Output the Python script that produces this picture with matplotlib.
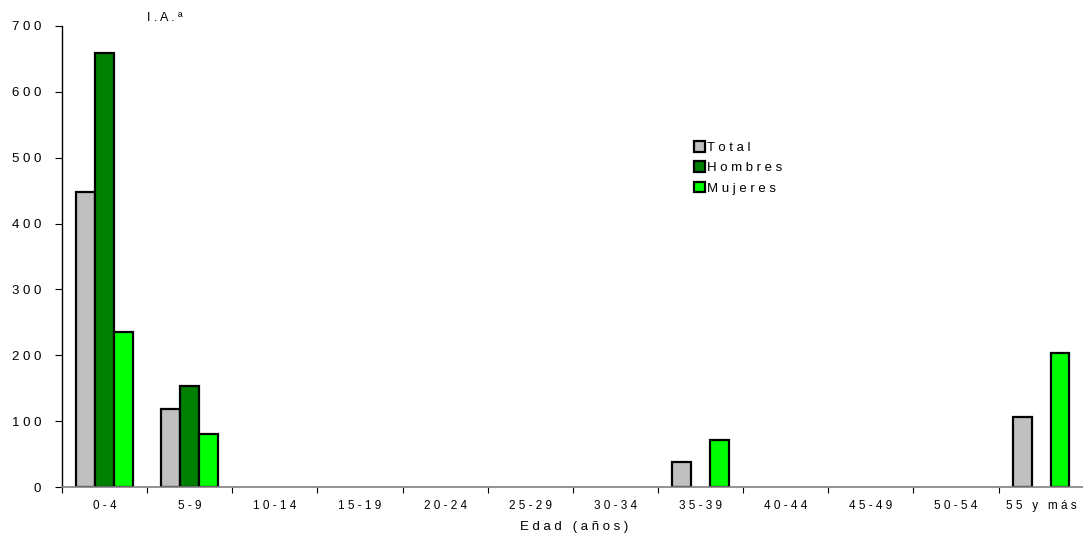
import matplotlib.pyplot as plt
import numpy as np

categories = ["0-4", "5-9", "10-14", "15-19", "20-24", "25-29", "30-34",
              "35-39", "40-44", "45-49", "50-54", "55 y más"]
total = [448, 118, 0, 0, 0, 0, 0, 38, 0, 0, 0, 107]
hombres = [659, 154, 0, 0, 0, 0, 0, 0, 0, 0, 0, 0]
mujeres = [236, 81, 0, 0, 0, 0, 0, 71, 0, 0, 0, 204]
series_names = ["Total", "Hombres", "Mujeres"]
y_ticks = [0, 100, 200, 300, 400, 500, 600, 700]


def spaced(s):
    # the original has wide letter spacing
    return " ".join(s)


plt.rcParams["font.family"] = ["Liberation Sans", "DejaVu Sans"]

fig = plt.figure(figsize=(10.83, 5.33), dpi=100)
ax = fig.add_axes([0.0572, 0.0863, 0.945, 0.865])

x = np.arange(len(categories))
w = 0.222
colors = ["#C0C0C0", "#008000", "#00FF00"]
for i, (vals, c) in enumerate(zip([total, hombres, mujeres], colors)):
    vals = np.array(vals, dtype=float)
    mask = vals > 0
    ax.bar(x[mask] + (i - 1) * w, vals[mask], w, color=c,
           edgecolor="black", linewidth=1.6, label=spaced(series_names[i]))

ax.set_xlim(-0.5, len(categories) - 0.48)
ax.set_ylim(0, 700)

ax.set_yticks(y_ticks)
ax.set_yticklabels([spaced(str(v)) for v in y_ticks], fontsize=9.5)
ax.set_xticks(np.arange(len(categories) + 1) - 0.5)
ax.set_xticklabels([])
ax.set_xticks(x, minor=True)
ax.set_xticklabels([spaced(c) for c in categories], minor=True, fontsize=8.5)
ax.tick_params(axis="x", which="minor", length=0, pad=9)
ax.tick_params(axis="x", which="major", length=4, direction="out", color="black")
ax.tick_params(axis="y", length=5, direction="out", pad=10)

for s in ["top", "right"]:
    ax.spines[s].set_visible(False)
ax.spines["bottom"].set_color("#808080")
ax.spines["bottom"].set_linewidth(1.2)
ax.spines["left"].set_linewidth(1.0)

ax.set_xlabel(spaced("Edad (años)"), fontsize=9.5, labelpad=7)
ax.text(0.083, 1.005, "I . A . ª", transform=ax.transAxes, fontsize=9,
        ha="left", va="bottom")

ax.legend(loc="upper left", bbox_to_anchor=(0.612, 0.762), frameon=False,
          fontsize=9.5, handlelength=0.9, handleheight=0.9, handletextpad=0.15,
          labelspacing=0.55, borderaxespad=0)

fig.savefig("out.png", dpi=100)
